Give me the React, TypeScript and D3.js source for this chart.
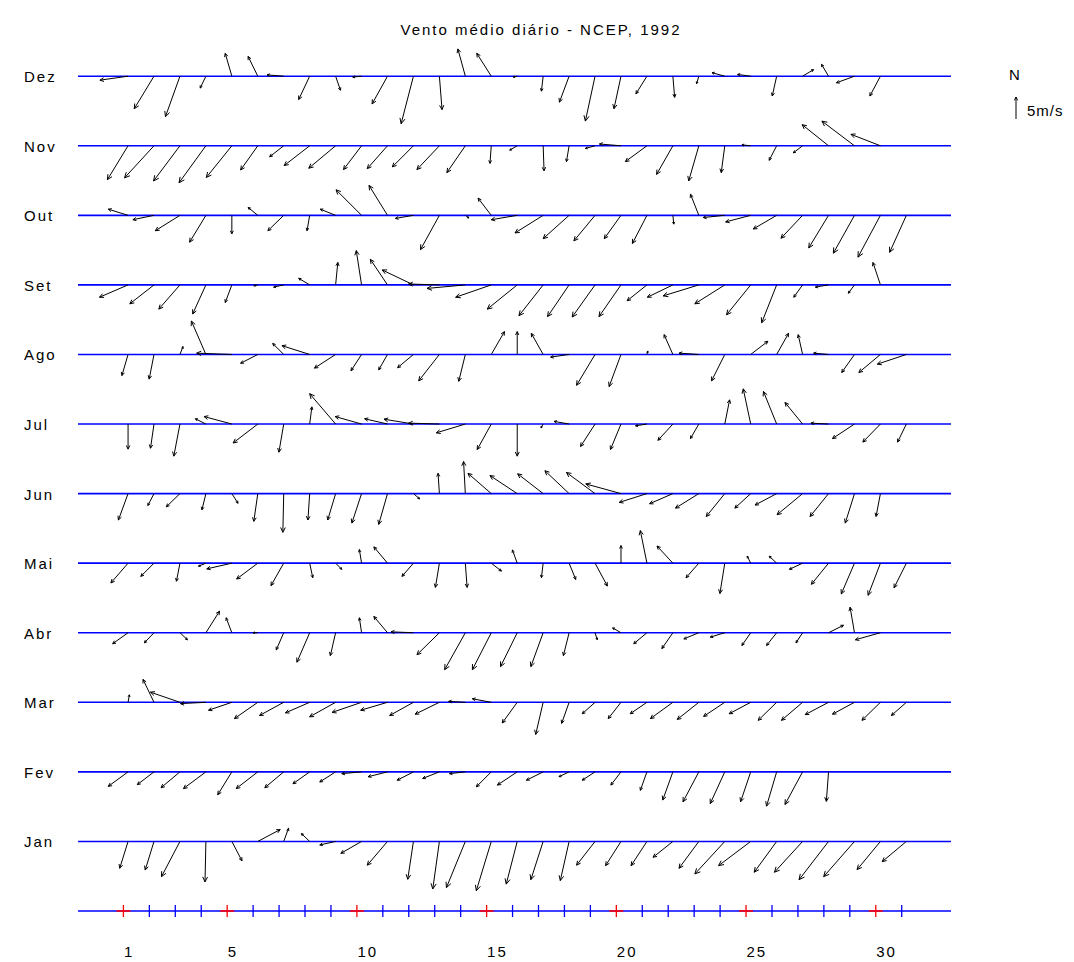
import React from 'react';
import * as d3 from 'd3';

type Vec = [number, number] | null; // [u, v] em m/s (leste, norte)

const titulo = 'Vento médio diário - NCEP, 1992';
const meses = ['Jan', 'Fev', 'Mar', 'Abr', 'Mai', 'Jun', 'Jul', 'Ago', 'Set', 'Out', 'Nov', 'Dez'];
const dias = d3.range(1, 32);
const diasMarcados = [1, 5, 10, 15, 20, 25, 30];
const velRef = 5;

const jan: Vec[] = [
  [-1.9, -6.1], [-2.0, -6.5], [-4.2, -8.0], [-0.2, -9.2], [2.3, -4.4], [5.1, 2.7], [1.1, 3.0], [-1.9, 1.8],
  [-3.6, -0.8], [-4.7, -2.7], [-4.6, -5.4], [-1.3, -8.6], [-1.5, -10.8], [-4.3, -10.5], [-3.4, -11.2], [-2.5, -9.7],
  [-2.8, -8.7], [-2.0, -8.9], [-4.2, -5.4], [-3.5, -5.5], [-3.6, -5.5], [-4.5, -3.6], [-4.5, -6.1], [-6.8, -7.4],
  [-7.3, -5.5], [-5.1, -7.0], [-6.4, -7.0], [-6.7, -8.7], [-7.0, -8.0], [-5.3, -6.4], [-5.5, -4.6],
];
const fev: Vec[] = [
  [-4.5, -3.3], [-3.8, -2.9], [-4.3, -3.6], [-5.1, -3.8], [-3.2, -5.2], [-4.9, -3.8], [-4.3, -3.6], [-3.8, -2.7],
  [-3.6, -2.3], [-4.5, -0.4], [-4.4, -1.1], [-3.7, -1.9], [-3.8, -1.5], [-3.6, -0.4], [-3.4, -3.4], [-4.5, -3.0],
  [-3.8, -1.9], [-2.3, -1.1], [-2.9, -1.9], [-2.3, -3.0], [-1.5, -4.2], [-2.3, -6.4], [-3.6, -6.8], [-3.3, -7.2],
  [-2.3, -6.8], [-2.3, -7.8], [-4.0, -7.4], [-0.5, -6.7], null,
];
const mar: Vec[] = [
  [0.3, 1.7], [-2.5, 5.2], [-6.7, 2.3], [-5.8, -0.3], [-5.3, -1.8], [-5.3, -3.7], [-5.5, -3.0], [-5.5, -2.4],
  [-5.9, -3.3], [-6.7, -2.3], [-6.1, -1.8], [-5.4, -3.0], [-5.5, -2.7], [-3.8, 0.2], [-4.3, 0.8], [-3.4, -4.7],
  [-1.7, -7.3], [-1.7, -4.8], [-2.9, -2.6], [-2.9, -3.7], [-3.8, -2.6], [-5.1, -3.7], [-4.9, -3.9], [-4.8, -3.2],
  [-4.9, -2.6], [-4.2, -4.1], [-4.8, -4.1], [-5.3, -2.8], [-5.0, -2.7], [-4.2, -4.1], [-3.4, -3.0],
];
const abr: Vec[] = [
  [-3.5, -2.5], [-2.2, -2.3], [1.7, -1.6], [3.1, 4.9], [-1.3, 3.4], [-1.1, 0], [-1.7, -3.9], [-2.9, -6.7],
  [-1.2, -5.2], [-0.5, 3.4], [-3.1, 3.7], [-5.1, 0.2], [-5.1, -5.0], [-4.7, -8.4], [-4.3, -8.4], [-3.8, -7.7],
  [-2.8, -7.7], [-1.3, -5.2], [0.5, -1.6], [-1.9, 1.1], [-3.0, -2.5], [-2.5, -3.6], [-3.4, -1.4], [-3.3, -1.0],
  [-2.0, -2.9], [-2.3, -2.9], [-1.5, -2.3], [3.4, 1.7], [-1.0, 5.8], [-5.7, -1.6],
];
const mai: Vec[] = [
  [-3.9, -4.5], [-3.0, -3.0], [-0.8, -4.1], [-1.7, -0.7], [-5.7, -1.3], [-4.8, -3.6], [-2.9, -5.1], [0.7, -3.3],
  [1.4, -1.4], [-0.5, 3.1], [-3.1, 3.7], [-2.6, -3.0], [-0.9, -5.5], [0.4, -5.5], [2.3, -1.8], [-1.1, 3.0],
  [-0.4, -3.3], [1.5, -3.7], [2.8, -5.2], [0, 4.0], [-1.5, 7.4], [-3.6, 3.9], [-2.9, -3.3], [-1.1, -6.9],
  [-0.8, 1.6], [-1.7, 1.6], [-3.0, -1.4], [-3.9, -4.8], [-3.0, -7.0], [-2.8, -7.3], [-2.8, -5.6],
];
const jun: Vec[] = [
  [-2.2, -6.0], [-1.4, -2.7], [-3.1, -3.0], [-0.9, -3.7], [1.4, -2.2], [-0.9, -6.3], [-0.2, -8.8], [-0.4, -6.0],
  [-1.8, -6.0], [-2.2, -6.7], [-2.0, -7.0], [1.4, -1.2], [-0.3, 4.6], [-0.4, 7.3], [-5.3, 4.6], [-6.2, 4.1],
  [-5.8, 4.5], [-5.5, 5.2], [-6.5, 4.8], [-8.0, 2.2], [-6.3, -2.0], [-5.3, -2.3], [-5.3, -3.3], [-4.2, -5.2],
  [-3.6, -3.3], [-4.9, -2.6], [-5.8, -4.8], [-4.2, -5.2], [-2.1, -6.7], [-1.0, -5.2],
];
const jul: Vec[] = [
  [0, -5.7], [-0.8, -5.5], [-1.4, -7.3], [-2.4, 1.2], [-6.3, 1.7], [-5.6, -4.3], [-1.1, -6.4], [0.5, 3.9],
  [-5.9, 6.9], [-6.0, 1.7], [-5.2, 1.2], [-6.7, 1.1], [-7.0, 0.2], [-6.6, -2.0], [-3.2, -5.8], [0, -7.3],
  [-0.5, -0.9], [-3.4, 0.6], [-3.3, -5.1], [-2.4, -5.8], [-2.6, -0.4], [-3.4, -3.7], [-1.9, -3.3], [1.1, 5.5],
  [-1.7, 8.0], [-3.0, 7.4], [-4.0, 4.9], [-4.0, 0.2], [-5.0, -3.3], [-4.0, -4.1], [-2.0, -4.1],
];
const ago: Vec[] = [
  [-1.4, -4.8], [-1.1, -5.6], [0.7, 1.8], [-3.3, 7.6], [-8.0, 0.3], [-3.9, -2.0], [-2.5, 2.5], [-6.3, 2.0],
  [-4.8, -3.1], [-2.4, -3.7], [-2.0, -3.5], [-3.6, -3.0], [-4.7, -6.0], [-1.5, -6.1], [3.0, 5.2], [0, 5.2],
  [-2.7, 4.8], [-4.2, -0.6], [-4.2, -7.0], [-2.7, -7.3], [0.2, 0.8], [-2.0, 4.5], [-4.5, 0.3], [-3.0, -6.0],
  [3.9, 3.0], [2.7, 4.8], [-1.0, 4.5], [-3.4, 0.3], [-2.9, -4.1], [-4.9, -4.1], [-6.6, -2.2],
];
const set: Vec[] = [
  [-6.5, -2.8], [-5.5, -4.3], [-4.8, -5.5], [-3.0, -6.6], [-1.5, -4.0], [-0.9, -0.2], [-2.3, -0.5], [-2.5, 1.5],
  [0.5, 5.1], [-1.2, 7.8], [-3.9, 5.8], [-7.1, 3.4], [-7.0, 0.2], [-8.7, -0.8], [-8.1, -2.8], [-6.8, -5.5],
  [-5.5, -7.0], [-4.9, -7.2], [-5.2, -7.3], [-5.0, -7.2], [-4.5, -3.6], [-5.8, -2.8], [-8.1, -2.5], [-6.8, -4.3],
  [-5.5, -6.8], [-3.4, -8.6], [-2.0, -2.8], [-3.0, -0.5], [-1.4, -1.9], [-1.7, 5.1],
];
const out: Vec[] = [
  [-4.5, 1.4], [-4.8, -1.0], [-5.6, -3.5], [-3.7, -6.1], [0, -4.2], [-2.2, 1.8], [-3.6, -3.5], [-0.6, -3.5],
  [-3.5, 1.4], [-5.8, 5.8], [-4.2, 6.8], [-4.1, -0.7], [-4.3, -7.8], [0.8, -0.6], [-3.0, 3.9], [-5.9, -1.0],
  [-6.4, -4.0], [-5.9, -5.3], [-4.8, -5.8], [-3.8, -5.3], [-3.3, -6.4], [0.2, -2.0], [-1.9, 4.8], [-4.9, -0.5],
  [-5.7, -1.5], [-5.3, -3.1], [-4.9, -5.2], [-4.5, -7.4], [-4.8, -8.6], [-5.1, -9.5], [-3.8, -8.4],
];
const nov: Vec[] = [
  [-4.7, -7.7], [-6.7, -7.3], [-6.0, -8.0], [-6.1, -8.4], [-5.8, -7.2], [-3.9, -5.5], [-3.2, -2.5], [-5.8, -4.5],
  [-6.1, -5.1], [-4.1, -5.4], [-4.6, -5.2], [-4.8, -4.8], [-5.1, -5.4], [-4.2, -6.1], [-0.3, -4.0], [-1.7, -1.0],
  [0.2, -5.7], [-0.6, -3.6], [-2.2, -0.6], [-4.9, 0.4], [-4.9, -3.6], [-3.7, -6.5], [-2.3, -8.0], [-0.8, -6.1],
  [-2.0, 0.2], [-1.7, -3.3], [-2.1, -1.6], [-6.0, 4.8], [-7.4, 5.6], [-6.7, 2.6],
];
const dez: Vec[] = [
  [-6.4, -0.9], [-4.5, -7.4], [-3.3, -9.2], [-1.3, -2.7], [-1.5, 5.2], [-2.2, 4.5], [-3.8, 0.3], [-2.5, -5.3],
  [1.1, -3.2], [-2.0, -0.2], [-3.5, -6.3], [-2.8, -10.8], [0.6, -7.6], [-1.7, 6.2], [-3.3, 5.2], [-0.9, -0.2],
  [-0.4, -3.4], [-2.2, -5.9], [-2.2, -10.2], [-1.6, -7.4], [-2.5, -4.0], [0.4, -4.8], [-0.5, -1.7], [-2.9, 0.8],
  [-3.0, 0.4], [-1.0, -4.5], [2.5, 1.5], [-1.6, 2.7], [-4.1, -1.5], [-2.4, -4.5], null,
];

const ventos = [jan, fev, mar, abr, mai, jun, jul, ago, set, out, nov, dez];

const W = 1074;
const H = 962;
const fonte = '"Liberation Sans", Arial, sans-serif';

// eixo x em dias, eixo y em linhas (0 = eixo de dias, 1 = Jan ... 12 = Dez)
const x = d3.scaleLinear().domain([-0.75, 32.9]).range([78, 951]);
const y = d3.scaleLinear().domain([0, 12]).range([911, 76.2]);
const pxPorMs = 4.4;
const deslocDia = 0.18;

function seta(x0: number, y0: number, u: number, v: number) {
  const dx = u * pxPorMs;
  const dy = -v * pxPorMs;
  const len = Math.hypot(dx, dy);
  if (len < 0.3) return '';
  const x1 = x0 + dx;
  const y1 = y0 + dy;
  const h = Math.min(6, 1.5 + 0.1 * len);
  const a = Math.atan2(dy, dx);
  const ab = 0.45;
  const p = d3.path();
  p.moveTo(x0, y0);
  p.lineTo(x1, y1);
  p.moveTo(x1 - h * Math.cos(a - ab), y1 - h * Math.sin(a - ab));
  p.lineTo(x1, y1);
  p.lineTo(x1 - h * Math.cos(a + ab), y1 - h * Math.sin(a + ab));
  return p.toString();
}

export default function App() {
  const [x0, x1] = x.range();
  return (
    <svg width={W} height={H} style={{ position: 'absolute', left: 0, top: 0, background: '#fff' }}
      fontFamily={fonte}>
      <text x={541} y={35} textAnchor="middle" fontSize={15} letterSpacing={2}>{titulo}</text>

      {meses.map((m, i) => (
        <g key={m}>
          <line x1={x0} x2={x1} y1={y(i + 1)} y2={y(i + 1)} stroke="#0000ff" strokeWidth={1.6} />
          <text x={24} y={y(i + 1) + 6} fontSize={15} letterSpacing={2}>{m}</text>
        </g>
      ))}

      {ventos.map((mes, i) => (
        <g key={i} stroke="#000" strokeWidth={1} fill="none">
          {mes.map((d, j) => d && (
            <path key={j} d={seta(x(j + 1 + deslocDia), y(i + 1), d[0], d[1])} />
          ))}
        </g>
      ))}

      <g>
        <line x1={x0} x2={x1} y1={y(0)} y2={y(0)} stroke="#0000ff" strokeWidth={1.6} />
        {dias.map(d => {
          const marc = diasMarcados.includes(d);
          const c = marc ? '#ff0000' : '#0000ff';
          return (
            <g key={d} stroke={c} strokeWidth={1.3}>
              <line x1={x(d)} x2={x(d)} y1={y(0) - 6} y2={y(0) + 6} />
              {marc && <line x1={x(d) - 7} x2={x(d) + 7} y1={y(0)} y2={y(0)} strokeWidth={1.6} />}
            </g>
          );
        })}
        {diasMarcados.map(d => (
          <text key={d} x={x(d) + 0.5} y={957} fontSize={15} letterSpacing={2}>{d}</text>
        ))}
      </g>

      <g>
        <text x={1009} y={80} fontSize={15}>N</text>
        <path d={seta(1016, 119, 0, velRef)} stroke="#000" fill="none" />
        <text x={1027} y={116} fontSize={15} letterSpacing={1}>{velRef}m/s</text>
      </g>
    </svg>
  );
}
